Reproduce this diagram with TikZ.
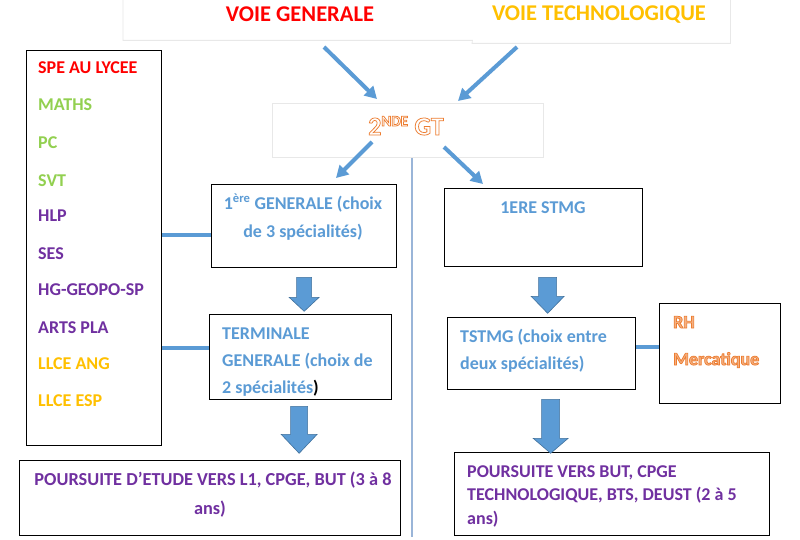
\documentclass[tikz,border=0pt]{standalone}
\usepackage{fontspec}
\setmainfont{Carlito}
\usetikzlibrary{arrows.meta,calc}
\definecolor{bl}{HTML}{5B9BD5}
\definecolor{blb}{HTML}{41719C}
\definecolor{rd}{HTML}{FF0000}
\definecolor{gd}{HTML}{FFC000}
\definecolor{gr}{HTML}{92D050}
\definecolor{pu}{HTML}{7030A0}
\definecolor{og}{HTML}{ED7D31}
\definecolor{ogl}{HTML}{F4B183}
\definecolor{faint}{HTML}{E8E8E8}
\definecolor{vline}{HTML}{9AB5D8}
% outlined text: fill colour #1, stroke colour orange
\newcommand\outl[2]{{\color{#1}\special{pdf:literal direct 2 Tr 0.75 w 0.929 0.490 0.192 RG}#2\special{pdf:literal direct 0 Tr}}}
\tikzset{
  box/.style={draw=black, line width=1.3pt, anchor=north west, inner sep=0pt},
  fbox/.style={draw=faint, line width=0.8pt, fill=white, anchor=north west, inner sep=0pt},
  hbox/.style={anchor=north west, inner sep=0pt},
  fline/.style={draw=faint, line width=0.8pt},
  thinarrow/.style={draw=bl, line width=4pt, -{Triangle[length=12pt,width=13pt]}},
  link/.style={draw=bl, line width=4pt},
  barrow/.style={fill=bl, draw=blb, line width=0.6pt, line join=miter},
  txt/.style={anchor=base west, inner sep=0pt, font=\bfseries\fontsize{18}{21}\selectfont},
  ctxt/.style={anchor=base, inner sep=0pt, font=\bfseries\fontsize{18}{21}\selectfont},
}
\newcommand\blockarrow[5]{%
  \filldraw[barrow] ($(#1)+(-#3,0)$) -- ($(#1)+(#3,0)$) -- ($(#2)+(#3,-#5)$) -- ($(#2)+(#4,-#5)$) -- (#2) -- ($(#2)+(-#4,-#5)$) -- ($(#2)+(-#3,-#5)$) -- cycle;}
\begin{document}
\begin{tikzpicture}[x=1pt,y=-1pt]
\useasboundingbox[fill=white] (0,0) rectangle (800,540);

% top boxes (faint, open at the top)
\node[hbox, minimum width=349pt, minimum height=40pt] (vg) at (123,0) {};
\node[hbox, minimum width=258pt, minimum height=43pt] (vt) at (472,0) {};
\draw[fline] (vg.north west) -- (vg.south west) -- (vg.south east) -- (vt.south west) -- (vt.south east) -- (vt.north east);
\node[anchor=center, inner sep=0pt, text=rd, font=\bfseries\fontsize{22.5}{26}\selectfont] (vgt) at (300,14) {VOIE GENERALE};
\node[anchor=center, inner sep=0pt, text=gd, font=\bfseries\fontsize{22.5}{26}\selectfont] (vtt) at (599,15) {VOIE TECHNOLOGIQUE};

% 2nde box
\node[fbox, minimum width=271pt, minimum height=54pt] (sec) at (272,103) {};
\node[anchor=base, inner sep=0pt, font=\bfseries\fontsize{26}{30}\selectfont] (sect) at (406,135)
  {\outl{white}{2\textsuperscript{\fontsize{15}{15}\selectfont NDE} GT}};

% arrows into 2nde
\coordinate (a1s) at (324,47); \coordinate (a1e) at (377,99);
\coordinate (a2s) at (517,47); \coordinate (a2e) at (458,101);
\draw[thinarrow] (a1s) -- (a1e);
\draw[thinarrow] (a2s) -- (a2e);

% vertical separator
\coordinate (vend) at (412,537);
\draw[vline, line width=1.3pt] (sec.south -| vend) -- (vend);

% arrows out of 2nde
\coordinate (a3s) at (372,142); \coordinate (a3e) at (336,178);
\coordinate (a4s) at (444,147); \coordinate (a4e) at (483,184);
\draw[thinarrow] (a3s) -- (a3e);
\draw[thinarrow] (a4s) -- (a4e);

% list box
\node[box, minimum width=135pt, minimum height=395pt] (spe) at (26,50) {};
\node[txt, text=rd] (l1) at (38,74) {SPE AU LYCEE};
\node[txt, text=gr] (l2) at (38,111) {MATHS};
\node[txt, text=gr] (l3) at (38,149) {PC};
\node[txt, text=gr] (l4) at (38,186) {SVT};
\node[txt, text=pu] (l5) at (38,222) {HLP};
\node[txt, text=pu] (l6) at (38,259) {SES};
\node[txt, text=pu] (l7) at (38,295) {HG-GEOPO-SP};
\node[txt, text=pu] (l8) at (38,333) {ARTS PLA};
\node[txt, text=gd] (l9) at (38,369) {LLCE ANG};
\node[txt, text=gd] (l10) at (38,406) {LLCE ESP};

% general track
\node[box, minimum width=185pt, minimum height=83pt] (g1) at (211,184) {};
\node[ctxt, text=bl] (g1a) at (303,209) {1\textsuperscript{ère} GENERALE (choix};
\node[ctxt, text=bl] (g1b) at (303,237) {de 3 spécialités)};

\node[box, minimum width=182pt, minimum height=85pt] (g2) at (209,314) {};
\node[txt, text=bl] (g2a) at (222,339) {TERMINALE};
\node[txt, text=bl] (g2b) at (222,366) {GENERALE (choix de};
\node[txt, text=bl] (g2c) at (222,393) {2 spécialités\textcolor{black}{)}};

\node[box, minimum width=381pt, minimum height=75pt] (g3) at (19,460) {};
\node[ctxt, text=pu, font=\bfseries\fontsize{18.3}{21}\selectfont] (g3a) at (213,485) {POURSUITE D’ETUDE VERS L1, CPGE, BUT (3 à 8};
\node[ctxt, text=pu, font=\bfseries\fontsize{18.3}{21}\selectfont] (g3b) at (210,514) {ans)};

\draw[link] (spe.east |- g1b.mid) -- (g1.west |- g1b.mid);
\draw[link] (spe.east |- 0,348) -- (g2.west |- 0,348);

\blockarrow{$(g1.south)+(0,9)$}{$(g1.south)+(0,43)$}{7.5}{15}{14}
\blockarrow{$(g2.south)+(-1.5,6)$}{$(g2.south)+(-1.5,53)$}{8.5}{18}{19}

% technological track
\node[box, minimum width=198pt, minimum height=78pt] (t1) at (444,188) {};
\node[ctxt, text=bl] (t1a) at (543,214) {1ERE STMG};

\node[box, minimum width=188pt, minimum height=72pt] (t2) at (447,317) {};
\node[txt, text=bl] (t2a) at (460,342) {TSTMG (choix entre};
\node[txt, text=bl] (t2b) at (460,369) {deux spécialités)};

\node[box, minimum width=121pt, minimum height=100pt] (rh) at (659,303) {};
\node[anchor=base west, inner sep=0pt, font=\bfseries\fontsize{18}{21}\selectfont] (rha) at (673,328) {\outl{ogl}{RH}};
\node[anchor=base west, inner sep=0pt, font=\bfseries\fontsize{18}{21}\selectfont] (rhb) at (673,365) {\outl{ogl}{Mercatique}};

\node[box, minimum width=315pt, minimum height=83pt] (t3) at (454,452) {};
\node[txt, text=pu] (t3a) at (467,477) {POURSUITE VERS BUT, CPGE};
\node[txt, text=pu] (t3b) at (467,500) {TECHNOLOGIQUE, BTS, DEUST (2 à 5};
\node[txt, text=pu] (t3c) at (467,524) {ans)};

\draw[link] (t2.east |- 0,347) -- (rh.west |- 0,347);

\blockarrow{$(t1.south)+(4,10)$}{$(t1.south)+(4,46)$}{9}{16.5}{17}
\blockarrow{$(t2.south)+(9,9)$}{$(t2.south)+(9,63)$}{9}{17.5}{15}
\end{tikzpicture}
\end{document}
